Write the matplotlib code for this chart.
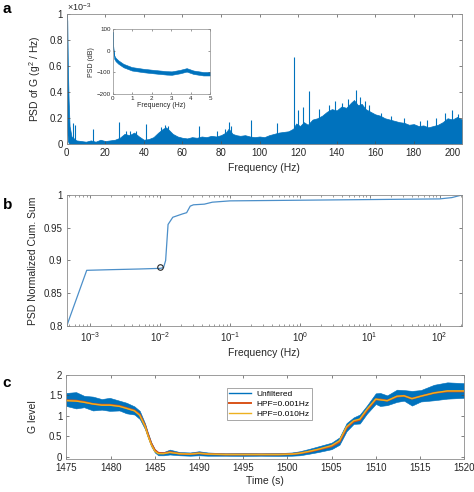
import numpy as np
import matplotlib
matplotlib.use("Agg")
import matplotlib.pyplot as plt

plt.rcParams['font.family'] = ['Liberation Sans', 'DejaVu Sans']
plt.rcParams['mathtext.fontset'] = 'custom'
plt.rcParams['mathtext.rm'] = 'Liberation Sans'

BLUE = '#0072BD'
ORANGE = '#D95319'
YELLOW = '#EDB120'
LINEB = '#4C8FC9'
GRID = '#262626'

# ---- panel a: PSD (units of 1e-3 g^2/Hz), upper envelope of noisy band
psd_f = [0, 0.3, 0.6, 1.0, 1.5, 2.5, 5, 7.5, 10, 12.5, 15, 17.5, 20, 22.5, 25,
         27.5, 30, 32.5, 35, 37.5, 40, 42.5, 45, 47.5, 50, 51.5, 53, 55, 57.5,
         60, 62.5, 65, 67.5, 70, 72.5, 75, 77.5, 80, 82.5, 84, 86, 88, 90, 92.5,
         95, 97.5, 100, 102.5, 105, 107.5, 110, 112.5, 115, 117.5, 119, 121, 123,
         125, 127.5, 130, 132.5, 135, 137.5, 140, 142.5, 145, 147.5, 149, 151,
         153, 155, 157.5, 160, 162.5, 165, 167.5, 170, 172.5, 175, 177.5, 180,
         182.5, 185, 187.5, 190, 192.5, 195, 197.5, 200, 202.5, 205]
psd_hi = [1.0, 0.95, 0.6, 0.34, 0.14, 0.06, 0.03, 0.025, 0.02, 0.03, 0.02, 0.035,
          0.025, 0.03, 0.035, 0.05, 0.08, 0.07, 0.09, 0.06, 0.035, 0.04, 0.055,
          0.09, 0.12, 0.13, 0.11, 0.08, 0.06, 0.05, 0.045, 0.055, 0.05, 0.06,
          0.055, 0.065, 0.06, 0.07, 0.09, 0.12, 0.08, 0.07, 0.065, 0.07, 0.06,
          0.055, 0.06, 0.055, 0.07, 0.08, 0.09, 0.095, 0.1, 0.12, 0.16, 0.14,
          0.17, 0.15, 0.19, 0.2, 0.22, 0.25, 0.27, 0.26, 0.29, 0.28, 0.32, 0.34,
          0.3, 0.31, 0.27, 0.25, 0.23, 0.22, 0.2, 0.19, 0.18, 0.17, 0.165, 0.15,
          0.155, 0.14, 0.145, 0.13, 0.14, 0.15, 0.17, 0.2, 0.19, 0.21, 0.19]
psd_lo = [0.3, 0.1, 0.03, 0.01, 0.005] + [0.004] * 86
spike_f = [3.2, 4.5, 13.6, 27.3, 31, 33, 36, 41.0, 49, 51, 52.5, 68.7, 78.0, 82,
           84.0, 85, 95.5, 109.3, 117.8, 120.2, 122.6, 125.5, 131, 136, 139, 143,
           146, 150.2, 152, 154.5, 157, 160.6, 163, 168, 175, 183, 187, 191.7,
           196, 200.0, 203]
spike_v = [0.16, 0.15, 0.12, 0.17, 0.1, 0.1, 0.1, 0.155, 0.13, 0.15, 0.14, 0.14,
           0.10, 0.12, 0.17, 0.14, 0.19, 0.165, 0.67, 0.26, 0.29, 0.41, 0.27,
           0.3, 0.33, 0.32, 0.35, 0.42, 0.36, 0.33, 0.3, 0.225, 0.24, 0.22, 0.2,
           0.18, 0.19, 0.2, 0.24, 0.26, 0.23]

# inset: PSD in dB, 0-5 Hz
ins_f = [0, 0.02, 0.05, 0.08, 0.15, 0.29, 0.55, 0.98, 1.58, 2.09, 2.77, 3.03,
         3.46, 3.8, 4.15, 4.66, 5.0]
ins_db = [81, 20, -5, -29, -40, -52, -68, -83, -91, -96, -102, -103, -96, -88,
          -99, -106, -106]

# ---- panel b: normalized cumulative sum
cum_f = [4.6e-4, 8.9e-4, 2e-3, 5e-3, 1e-2, 1.12e-2, 1.2e-2, 1.3e-2, 1.52e-2,
         2.08e-2, 2.4e-2, 2.7e-2, 3e-2, 4.3e-2, 5.6e-2, 0.1, 1, 10, 100, 150, 210]
cum_v = [0.80, 0.885, 0.886, 0.887, 0.888, 0.889, 0.9, 0.955, 0.966, 0.971,
         0.973, 0.983, 0.985, 0.986, 0.989, 0.991, 0.992, 0.993, 0.994, 0.996, 1.0]
mark_f, mark_v = 1e-2, 0.8895

# ---- panel c: G level time series
t = [1475, 1476.1, 1477, 1478, 1479, 1479.9, 1481, 1481.8, 1482.7, 1483.3, 1483.9,
     1484.2, 1484.6, 1485, 1485.4, 1486, 1486.7, 1487.8, 1489, 1490, 1491, 1493,
     1495, 1497, 1499, 1500.5, 1501.4, 1502.5, 1503.5, 1505, 1505.9, 1506.7,
     1507.5, 1508.2, 1509, 1510, 1510.5, 1511.3, 1512.4, 1513.2, 1514.1, 1515.1,
     1516.6, 1518.1, 1520]
g_mid = [1.40, 1.38, 1.35, 1.30, 1.28, 1.28, 1.25, 1.19, 1.13, 1.02, 0.74, 0.54,
         0.30, 0.14, 0.07, 0.07, 0.11, 0.07, 0.06, 0.08, 0.06, 0.05, 0.05, 0.05,
         0.05, 0.06, 0.08, 0.13, 0.18, 0.26, 0.38, 0.72, 0.88, 0.92, 1.15, 1.42,
         1.40, 1.38, 1.49, 1.50, 1.43, 1.49, 1.57, 1.62, 1.62]
g_spread = [0.16, 0.2, 0.14, 0.17, 0.13, 0.16, 0.12, 0.13, 0.1, 0.1, 0.07, 0.06,
            0.05, 0.04, 0.04, 0.04, 0.06, 0.04, 0.04, 0.05, 0.04, 0.03, 0.035,
            0.03, 0.035, 0.04, 0.05, 0.06, 0.07, 0.08, 0.09, 0.1, 0.08, 0.11,
            0.1, 0.13, 0.16, 0.12, 0.15, 0.13, 0.18, 0.14, 0.19, 0.2, 0.18]
g_hpf1 = [1.38, 1.37, 1.34, 1.29, 1.27, 1.27, 1.24, 1.19, 1.13, 1.03, 0.76, 0.56,
          0.32, 0.16, 0.09, 0.08, 0.11, 0.07, 0.06, 0.08, 0.06, 0.05, 0.05, 0.05,
          0.05, 0.06, 0.08, 0.12, 0.17, 0.25, 0.36, 0.70, 0.86, 0.90, 1.13, 1.40,
          1.40, 1.37, 1.47, 1.49, 1.42, 1.48, 1.56, 1.60, 1.60]
g_hpf10 = [1.37, 1.36, 1.33, 1.29, 1.26, 1.26, 1.23, 1.18, 1.12, 1.01, 0.74, 0.53,
           0.29, 0.13, 0.07, 0.07, 0.10, 0.07, 0.06, 0.08, 0.06, 0.05, 0.05, 0.05,
           0.05, 0.06, 0.08, 0.13, 0.18, 0.27, 0.39, 0.73, 0.88, 0.92, 1.16, 1.41,
           1.39, 1.37, 1.48, 1.49, 1.42, 1.48, 1.56, 1.61, 1.61]


def style_axes(ax, fs=7):
    for s in ax.spines.values():
        s.set_color('0.55')
        s.set_linewidth(0.6)
    ax.tick_params(direction='in', top=True, right=True, labelsize=fs,
                   color='0.3', width=0.5, length=2.5, labelcolor=GRID, pad=3)
    ax.tick_params(which='minor', direction='in', top=True, right=True,
                   color='0.3', width=0.4, length=1.5)


fig = plt.figure(figsize=(4.74, 4.92), dpi=100)

# panel a
axa = fig.add_axes([0.1407, 0.7067, 0.8340, 0.2648])
axa.fill_between(psd_f, psd_lo, psd_hi, color=BLUE, lw=0.5, edgecolor=BLUE)
axa.vlines(spike_f, 0, spike_v, color=BLUE, lw=0.8)
axa.set_xlim(0, 205)
axa.set_ylim(0, 1)
axa.set_xticks(range(0, 201, 20))
axa.set_yticks([0, 0.2, 0.4, 0.6, 0.8, 1])
axa.set_yticklabels(['0', '0.2', '0.4', '0.6', '0.8', '1'])
axa.set_xlabel('Frequency (Hz)', fontsize=7.5, color=GRID, labelpad=3)
axa.set_ylabel(r'PSD of G (g$^2$ / Hz)', fontsize=7.5, color=GRID, labelpad=4)
axa.text(0.0, 1.01, r'$\times10^{-3}$', transform=axa.transAxes, fontsize=6.5,
         color=GRID, va='bottom', ha='left')
style_axes(axa)

# inset
axi = fig.add_axes([0.2378, 0.8089, 0.2052, 0.1315])
lo = [v - 8 for v in ins_db]
hi = [v + 8 for v in ins_db]
axi.fill_between(ins_f, lo, hi, color=BLUE, lw=0.4, edgecolor=BLUE)
axi.set_xlim(0, 5)
axi.set_ylim(-200, 100)
axi.set_xticks(range(0, 6))
axi.set_yticks([-200, -100, 0, 100])
axi.set_xlabel('Frequency (Hz)', fontsize=5, color=GRID, labelpad=1)
axi.set_ylabel('PSD (dB)', fontsize=5, color=GRID, labelpad=1)
for s in axi.spines.values():
    s.set_color('0.55')
    s.set_linewidth(0.5)
axi.tick_params(direction='in', top=True, right=True, labelsize=4.5, color='0.3',
                width=0.4, length=1.5, pad=1.5, labelcolor=GRID)

# panel b
axb = fig.add_axes([0.1407, 0.3374, 0.8340, 0.2663])
axb.semilogx(cum_f, cum_v, color=LINEB, lw=0.9)
axb.plot(mark_f, mark_v, 'o', mfc='none', mec='0.15', ms=4, mew=0.8)
axb.set_xlim(4.6e-4, 210)
axb.set_ylim(0.8, 1)
axb.set_yticks([0.8, 0.85, 0.9, 0.95, 1])
axb.set_yticklabels(['0.8', '0.85', '0.9', '0.95', '1'])
axb.set_xlabel('Frequency (Hz)', fontsize=7.5, color=GRID, labelpad=3)
axb.set_ylabel('PSD Normalized Cum. Sum', fontsize=7.5, color=GRID, labelpad=4)
style_axes(axb)

# panel c
axc = fig.add_axes([0.1401, 0.0671, 0.8390, 0.1707])
g_lo = [m - s for m, s in zip(g_mid, g_spread)]
g_hi = [m + s for m, s in zip(g_mid, g_spread)]
axc.fill_between(t, g_lo, g_hi, color=BLUE, lw=0.4, edgecolor=BLUE)
axc.plot([], [], color=BLUE, lw=1.0, label='Unfiltered')
axc.plot(t, g_hpf1, color=ORANGE, lw=1.4, label='HPF=0.001Hz')
axc.plot(t, g_hpf10, color=YELLOW, lw=1.0, label='HPF=0.010Hz')
axc.set_xlim(1475, 1520)
axc.set_ylim(-0.06, 2)
axc.set_xticks(range(1475, 1521, 5))
axc.set_yticks([0, 0.5, 1, 1.5, 2])
axc.set_yticklabels(['0', '0.5', '1', '1.5', '2'])
axc.set_xlabel('Time (s)', fontsize=7.5, color=GRID, labelpad=2)
axc.set_ylabel('G level', fontsize=7.5, color=GRID, labelpad=8)
leg = axc.legend(loc='upper left', bbox_to_anchor=(0.393, 0.9), fontsize=6,
                 frameon=True, fancybox=False, handlelength=2.6, borderpad=0.3,
                 labelspacing=0.25, handletextpad=0.6)
leg.get_frame().set_edgecolor('0.4')
leg.get_frame().set_linewidth(0.5)
style_axes(axc)

for lbl, y in [('a', 0.995), ('b', 0.598), ('c', 0.236)]:
    fig.text(0.006, y, lbl, fontsize=11, fontweight='bold', va='top', ha='left')

fig.savefig('out.png', dpi=100)
